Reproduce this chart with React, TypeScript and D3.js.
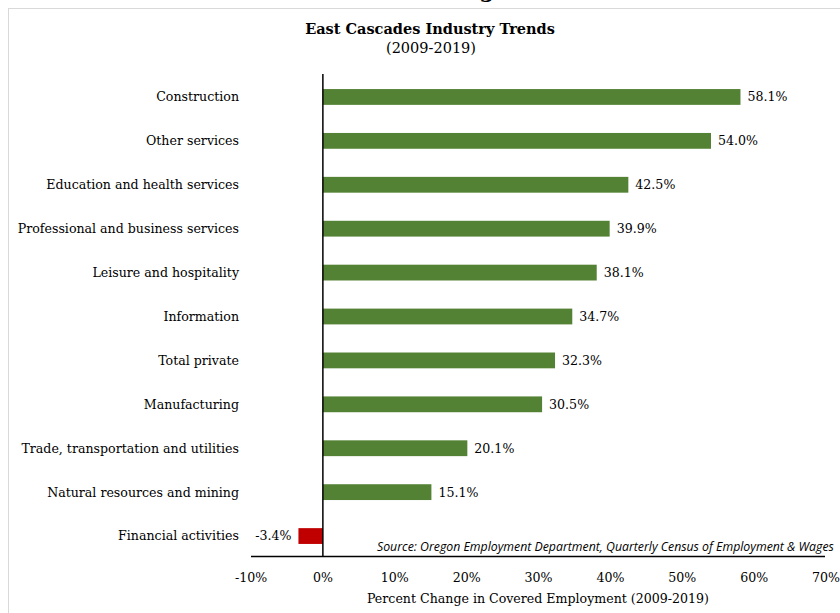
import React from "react";
import * as d3 from "d3";

const categories = [
  "Construction",
  "Other services",
  "Education and health services",
  "Professional and business services",
  "Leisure and hospitality",
  "Information",
  "Total private",
  "Manufacturing",
  "Trade, transportation and utilities",
  "Natural resources and mining",
  "Financial activities",
];
const values = [58.1, 54.0, 42.5, 39.9, 38.1, 34.7, 32.3, 30.5, 20.1, 15.1, -3.4];
const xTicks = [-10, 0, 10, 20, 30, 40, 50, 60, 70];

const W = 840;
const H = 613;
const serif = "'DejaVu Serif', serif";
const fs = 12.6;

export default function App() {
  const x = d3.scaleLinear().domain([-10, 70]).range([251, 826]);
  const y = d3.scaleBand().domain(categories).range([75, 558]).paddingInner(0.64).paddingOuter(0.32);
  const bw = y.bandwidth();
  return (
    <svg width={W} height={H} style={{ position: "absolute", left: 0, top: 0, background: "#fff" }}>
      <rect x={8.5} y={8.5} width={W} height={H} fill="#fff" stroke="#d9d9d9" strokeWidth={1} />
      <text x={487} y={-3} fontFamily={serif} fontWeight="bold" fontSize={22} textAnchor="middle">g</text>
      <text x={430} y={34} fontFamily={serif} fontWeight="bold" fontSize={14.5} textAnchor="middle">East Cascades Industry Trends</text>
      <text x={431} y={53} fontFamily={serif} fontSize={14.5} textAnchor="middle">(2009-2019)</text>
      {categories.map((c, i) => {
        const v = values[i];
        const y0 = y(c)!;
        const cy = y0 + bw / 2;
        const x0 = x(Math.min(0, v));
        const x1 = x(Math.max(0, v));
        return (
          <g key={c}>
            <rect x={x0} y={y0} width={x1 - x0} height={bw} fill={v < 0 ? "#c00000" : "#548235"} />
            <text x={239} y={cy} dy="0.35em" textAnchor="end" fontFamily={serif} fontSize={fs}>{c}</text>
            <text
              x={v < 0 ? x0 - 7 : x1 + 7}
              y={cy}
              dy="0.35em"
              textAnchor={v < 0 ? "end" : "start"}
              fontFamily={serif}
              fontSize={fs}
            >{v.toFixed(1)}%</text>
          </g>
        );
      })}
      <line x1={x(0)} x2={x(0)} y1={74} y2={557} stroke="#000" strokeWidth={1.5} />
      <line x1={x(-10)} x2={825} y1={556.5} y2={556.5} stroke="#000" strokeWidth={1.5} />
      <text x={377} y={551} fontFamily="'Open Sans', 'Liberation Sans', sans-serif" fontStyle="italic" fontSize={12.3}>
        Source: Oregon Employment Department, Quarterly Census of Employment &amp; Wages
      </text>
      {xTicks.map((t) => (
        <text key={t} x={x(t)} y={577.5} dy="0.35em" textAnchor="middle" fontFamily={serif} fontSize={fs}>{t}%</text>
      ))}
      <text x={538} y={598.5} dy="0.35em" textAnchor="middle" fontFamily={serif} fontSize={fs}>Percent Change in Covered Employment (2009-2019)</text>
    </svg>
  );
}
